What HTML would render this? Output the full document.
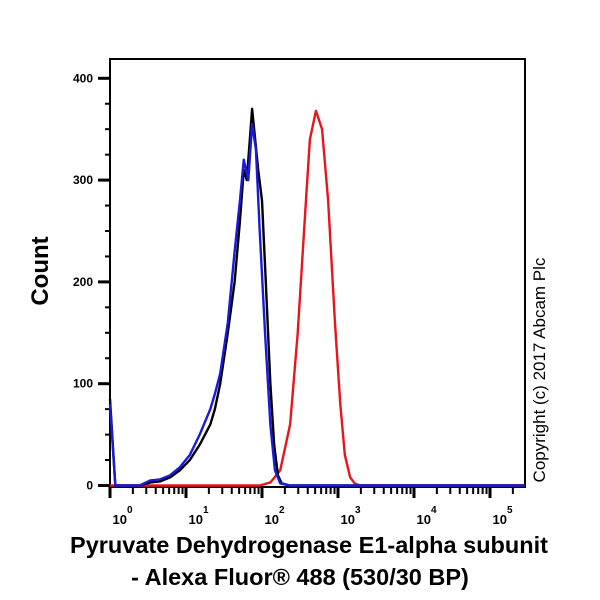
<!DOCTYPE html>
<html><head><meta charset="utf-8"><style>
body{margin:0;background:#fff}
svg{display:block;font-family:"Liberation Sans",sans-serif}
</style></head><body>
<svg id="c" width="600" height="600">
<rect x="110" y="59" width="415" height="428" fill="none" stroke="#000" stroke-width="2"/>
<g id="yax"></g>
<g id="xax"></g>
<g id="series"></g>
<text x="48" y="271" transform="rotate(-90 48 271)" text-anchor="middle" font-size="24" font-weight="bold">Count</text>
<text x="309" y="553" text-anchor="middle" font-size="23.5" font-weight="bold">Pyruvate Dehydrogenase E1-alpha subunit</text>
<text x="300" y="585" text-anchor="middle" font-size="23.5" font-weight="bold">- Alexa Fluor® 488 (530/30 BP)</text>
<text x="545" y="370" transform="rotate(-90 545 370)" text-anchor="middle" font-size="17">Copyright (c) 2017 Abcam Plc</text>
</svg>
<script>
const yTicks=[0,100,200,300,400];
const xDecades=[0,1,2,3,4,5];
const blackLog=[0,0.07,0.39,0.53,0.66,0.79,0.92,1.05,1.18,1.32,1.38,1.45,1.55,1.64,1.71,1.76,1.80,1.84,1.87,1.91,1.95,2.0,2.05,2.11,2.16,2.21,2.26,2.37,5.46];
const blackCount=[85,0,0,3,4,8,15,25,40,60,75,100,150,200,260,310,300,340,370,340,310,280,200,100,40,10,2,0,0];
const blueLog=[0,0.07,0.39,0.53,0.66,0.79,0.92,1.05,1.18,1.32,1.38,1.45,1.55,1.64,1.71,1.76,1.82,1.87,1.92,1.97,2.04,2.11,2.17,2.24,2.37,5.46];
const blueCount=[80,0,0,5,6,10,18,30,50,75,90,110,160,230,280,320,300,355,330,250,150,60,15,2,0,0];
const redLog=[0,1.97,2.11,2.24,2.37,2.47,2.57,2.63,2.71,2.79,2.87,2.96,3.03,3.09,3.16,3.22,3.29,5.46];
const redCount=[0,0,3,15,60,150,270,340,368,350,280,160,80,30,8,2,0,0];
const X=l=>110+76*l, Y=v=>485.5-1.018*v;
const NS="http://www.w3.org/2000/svg";
function mk(t,a,p){const e=document.createElementNS(NS,t);for(const k in a)e.setAttribute(k,a[k]);p.appendChild(e);return e;}
const ya=document.getElementById('yax'),xa=document.getElementById('xax'),sg=document.getElementById('series');
for(let v=0;v<=400;v+=25){const maj=v%100===0;const t=mk('line',{x1:110-(maj?12:5),x2:110,y1:Y(v),y2:Y(v),stroke:'#000','stroke-width':maj?3:2},ya);

}
yTicks.forEach(v=>{const t=mk('text',{x:93,y:Y(v)+4,'text-anchor':'end','font-size':12,'font-weight':'bold'},ya);t.textContent=v;

});
xDecades.forEach(d=>{
 const t=mk('line',{x1:X(d),x2:X(d),y1:487,y2:498,stroke:'#000','stroke-width':3},xa);
 
 
 for(let m=2;m<10;m++){const l=d+Math.log10(m);if(X(l)>525)break;const mt=mk('line',{x1:X(l),x2:X(l),y1:487,y2:494,stroke:'#000','stroke-width':2},xa);
 
 }
 const g=mk('text',{x:X(d)+17,y:524,'text-anchor':'end','font-size':13,'font-weight':'bold'},xa);g.textContent='10';
 
 
 const s=mk('text',{x:X(d)+17,y:513,'font-size':10,'font-weight':'bold'},xa);s.textContent=d;
 
 
});
function line(L,C,col,name){const p=mk('polyline',{points:L.map((l,i)=>X(l)+','+Y(C[i])).join(' '),fill:'none',stroke:col,'stroke-width':2.4,'stroke-linejoin':'round'},sg);

}
line(redLog,redCount,'#e8151b','red-histogram');
line(blackLog,blackCount,'#000','black-histogram');
line(blueLog,blueCount,'#1a1adc','blue-histogram');
</script>
</body></html>
